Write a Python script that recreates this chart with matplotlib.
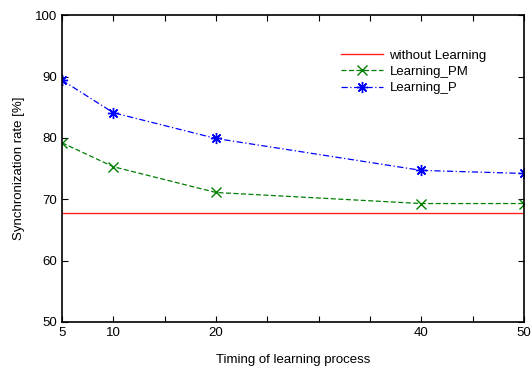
import matplotlib
matplotlib.use('Agg')
import matplotlib.pyplot as plt

plt.rcParams['font.family'] = ['Liberation Sans', 'DejaVu Sans']

# timing of learning process and synchronization rates
timing = [5, 10, 20, 40, 50]
without_learning = [67.8, 67.8, 67.8, 67.8, 67.8]
learning_pm = [79.2, 75.3, 71.1, 69.3, 69.3]
learning_p = [89.4, 84.1, 79.9, 74.7, 74.2]

fs = 9.5

fig = plt.figure(figsize=(5.32, 3.69), dpi=100, facecolor='white')
ax = fig.add_axes([0.1165, 0.1274, 0.8685, 0.8316])

ax.plot(timing, without_learning, color='#ff2020', lw=1.0, label='without Learning')
ax.plot(timing, learning_pm, color='#007f00', ls='--', lw=0.9, marker='x', ms=7, mew=1.0,
        label='Learning_PM', dashes=(4, 2))
ax.plot(timing, learning_p, color='#0000ff', ls='-.', lw=0.9, marker=(8, 2, 0), ms=8, mew=1.0,
        label='Learning_P', dashes=(5, 2, 1, 2))

ax.set_xlim(5, 50)
ax.set_ylim(50, 100)
ax.set_xticks(range(5, 51, 5))
ax.set_xticklabels(['5', '10', '', '20', '', '', '', '40', '', '50'])
ax.set_yticks([50, 60, 70, 80, 90, 100])
ax.tick_params(direction='in', top=True, right=True, labelsize=fs, length=4, width=0.8)
for s in ax.spines.values():
    s.set_linewidth(1.2)

ax.set_xlabel('Timing of learning process', fontsize=fs, labelpad=11)
ax.set_ylabel('Synchronization rate [%]', fontsize=fs, labelpad=7)

ax.legend(loc='upper left', bbox_to_anchor=(0.593, 0.905), frameon=False, fontsize=fs,
          handlelength=3.2, labelspacing=0.3, handletextpad=0.45, borderaxespad=0)

fig.savefig('out.png', dpi=100)
